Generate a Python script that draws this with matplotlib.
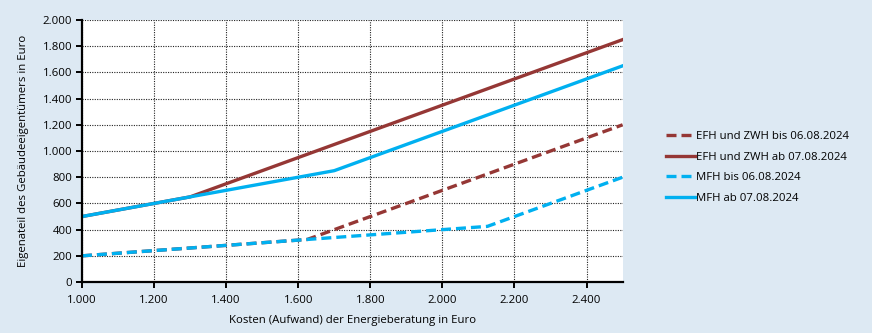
import matplotlib.pyplot as plt
from matplotlib.ticker import FuncFormatter, MultipleLocator

plt.rcParams['font.family'] = ['Open Sans', 'DejaVu Sans']

# Kosten der Energieberatung (Knickpunkte) und Eigenanteil in Euro
efh_alt_x = [1000, 1625, 2500]
efh_alt_y = [200, 325, 1200]
efh_neu_x = [1000, 1300, 2500]
efh_neu_y = [500, 650, 1850]
mfh_alt_x = [1000, 2125, 2500]
mfh_alt_y = [200, 425, 800]
mfh_neu_x = [1000, 1700, 2500]
mfh_neu_y = [500, 850, 1650]

labels = ['EFH und ZWH bis 06.08.2024', 'EFH und ZWH ab 07.08.2024',
          'MFH bis 06.08.2024', 'MFH ab 07.08.2024']

red = '#953735'
blue = '#00b0f0'
bg = '#dde9f3'

def de_fmt(v, pos):
    return f'{int(v):,}'.replace(',', '.')

fig = plt.figure(figsize=(8.72, 3.33), dpi=100, facecolor=bg)
ax = fig.add_axes([0.094, 0.153, 0.62, 0.787])

ax.plot(efh_alt_x, efh_alt_y, color=red, lw=2.4, dashes=(3, 1.5), label=labels[0])
ax.plot(efh_neu_x, efh_neu_y, color=red, lw=2.4, label=labels[1])
ax.plot(mfh_alt_x, mfh_alt_y, color=blue, lw=2.4, dashes=(3, 1.5), label=labels[2])
ax.plot(mfh_neu_x, mfh_neu_y, color=blue, lw=2.4, label=labels[3])

ax.set_xlim(1000, 2500)
ax.set_ylim(0, 2000)
ax.xaxis.set_major_locator(MultipleLocator(200))
ax.yaxis.set_major_locator(MultipleLocator(200))
ax.xaxis.set_major_formatter(FuncFormatter(de_fmt))
ax.yaxis.set_major_formatter(FuncFormatter(de_fmt))
ax.grid(True, color='#222222', ls=(0, (1, 1.2)), lw=0.8)
ax.set_axisbelow(True)

for s in ['top', 'right']:
    ax.spines[s].set_visible(False)
for s in ['left', 'bottom']:
    ax.spines[s].set_linewidth(1.6)
ax.tick_params(axis='both', direction='out', length=4, width=1.4, labelsize=8.2, pad=3)
ax.tick_params(axis='x', pad=5)

ax.set_xlabel('Kosten (Aufwand) der Energieberatung in Euro', fontsize=8.2, labelpad=7)
ax.set_ylabel('Eigenateil des Gebäudeeigentümers in Euro', fontsize=8.2, labelpad=10)

fig.legend(loc='upper left', bbox_to_anchor=(0.758, 0.62), frameon=False,
           fontsize=8.2, handlelength=2.6, handletextpad=0.1, labelspacing=0.85,
           borderaxespad=0)

fig.savefig('out.png', dpi=100, facecolor=bg)
